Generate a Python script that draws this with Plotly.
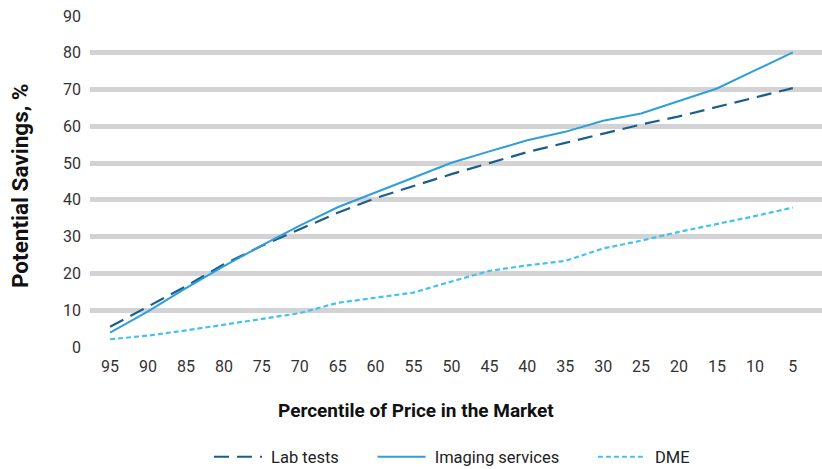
import plotly.graph_objects as go

percentiles = ["95", "90", "85", "80", "75", "70", "65", "60", "55", "50",
               "45", "40", "35", "30", "25", "20", "15", "10", "5"]
lab_tests = [5.5, 11, 16.5, 22.5, 27.5, 32, 36.5, 40.5, 43.8, 47, 50, 53, 55.5, 58, 60.5, 62.7, 65.2, 67.7, 70.4]
imaging = [3.9, 9.7, 16, 22, 27.6, 33, 38, 42, 46, 50.1, 53.2, 56.2, 58.5, 61.5, 63.5, 67, 70.3, 75.2, 80.1]
dme = [2.1, 3.1, 4.5, 6, 7.6, 9.2, 12, 13.3, 14.8, 17.8, 20.7, 22.2, 23.4, 26.8, 28.9, 31.3, 33.4, 35.6, 37.9]
y_ticks = [0, 10, 20, 30, 40, 50, 60, 70, 80, 90]

font_family = "Roboto, Lato, sans-serif"
NB = "\u00a0"

fig = go.Figure()
fig.add_trace(go.Scatter(x=percentiles, y=lab_tests, mode="lines", name=NB + "Lab tests" + NB * 7,
                         line=dict(color="#1b5e8e", width=2.2, dash="15px,8px")))
fig.add_trace(go.Scatter(x=percentiles, y=imaging, mode="lines", name=NB + "Imaging services" + NB * 7,
                         line=dict(color="#2e9fd9", width=2)))
fig.add_trace(go.Scatter(x=percentiles, y=dme, mode="lines", name=NB + "DME",
                         line=dict(color="#40c3f1", width=2.2, dash="5px,3px")))

fig.add_annotation(text="<b>Percentile of Price in the Market</b>", xref="paper", yref="paper",
                   x=(416 - 90) / 732, y=(347 - 410) / 331, xanchor="center", yanchor="middle",
                   showarrow=False, font=dict(size=19, color="#111111"))
fig.add_annotation(text="<b>Potential Savings, %</b>", xref="paper", yref="paper",
                   x=(20 - 90) / 732, y=(347 - 186) / 331, xanchor="center", yanchor="middle",
                   textangle=-90, showarrow=False, font=dict(size=22.5, color="#111111"))

fig.update_layout(
    width=822, height=469,
    margin=dict(l=90, r=0, t=16, b=122),
    paper_bgcolor="white", plot_bgcolor="white",
    font=dict(family=font_family, size=16, color="#333333"),
    showlegend=True,
    legend=dict(orientation="h", x=(452 - 90) / 732, xanchor="center",
                yref="container", y=(469 - 457) / 469, yanchor="middle",
                itemwidth=48, font=dict(size=16.5, color="#222222")),
    xaxis=dict(
        type="category", categoryorder="array", categoryarray=percentiles,
        range=[-0.53, 18.77], showgrid=False, zeroline=False, showline=False,
        ticks="", ticklabelstandoff=8, automargin=False,
        tickfont=dict(size=16, color="#333333"),
    ),
    yaxis=dict(
        range=[0, 90], tickvals=y_ticks, showgrid=True, gridcolor="#d3d3d5", gridwidth=5,
        zeroline=False, showline=False, ticks="", ticklabelstandoff=8, automargin=False,
        tickfont=dict(size=16, color="#333333"),
    ),
)

fig.write_html("out.html")
